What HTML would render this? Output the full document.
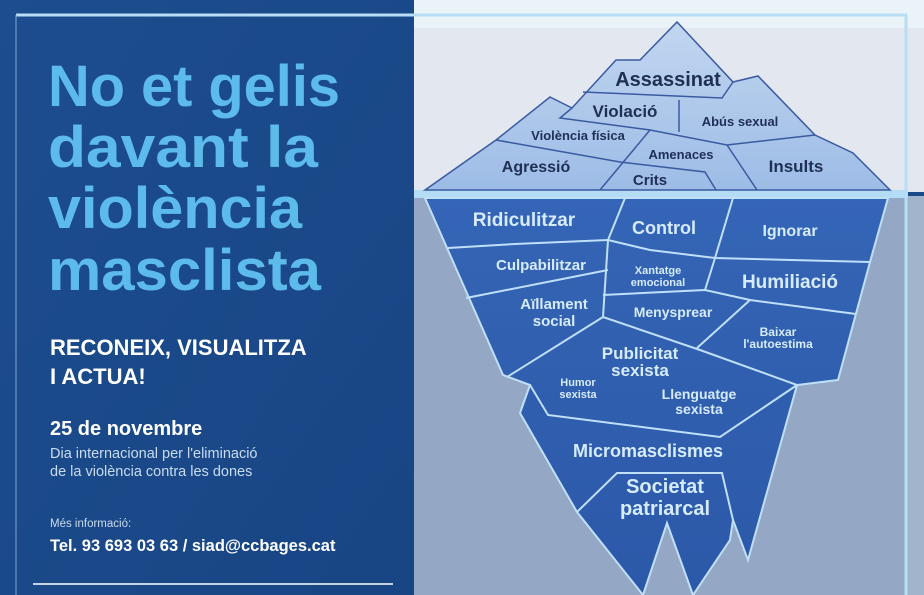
<!DOCTYPE html>
<html><head><meta charset="utf-8"><style>
html,body{margin:0;padding:0;width:924px;height:595px;overflow:hidden;background:#1b4a88}
svg{display:block}
text{font-family:"Liberation Sans",sans-serif;font-weight:bold}
</style></head><body>
<svg width="924" height="595" viewBox="0 0 924 595" xmlns="http://www.w3.org/2000/svg">
<defs>
<linearGradient id="lg" x1="0" y1="0" x2="1" y2="1">
<stop offset="0" stop-color="#1d4d8e"/><stop offset="1" stop-color="#184584"/></linearGradient>
<linearGradient id="ice" x1="0" y1="0" x2="0" y2="1">
<stop offset="0" stop-color="#c2d6f0"/><stop offset="1" stop-color="#9dbce6"/></linearGradient>
<linearGradient id="uw" x1="0" y1="0" x2="0" y2="1">
<stop offset="0" stop-color="#3565b6"/><stop offset="1" stop-color="#2c58a8"/></linearGradient>
</defs>
<rect x="0" y="0" width="414" height="595" fill="url(#lg)"/>
<rect x="414" y="0" width="510" height="192" fill="#e3e7f0"/>
<rect x="414" y="0" width="510" height="28" fill="#eaf3f8"/>
<rect x="414" y="196" width="510" height="399" fill="#94a8c6"/>
<rect x="906" y="196" width="18" height="399" fill="#a2b4cc"/>
<line x1="16" y1="15" x2="907" y2="15" stroke="#b8def6" stroke-width="3"/>
<line x1="16" y1="15" x2="16" y2="595" stroke="#7fa8d0" stroke-width="1"/>
<line x1="906" y1="15" x2="906" y2="595" stroke="#b8def6" stroke-width="3"/>
<rect x="414" y="190" width="494" height="8" fill="#b5dcf5"/>
<line x1="33" y1="584" x2="393" y2="584" stroke="#ffffff" stroke-width="1.5"/>

<polygon points="425,190 496,140 550,97 572,108 616,60 640,60 677,22 733,82 758,76 815,135 853,153 890,190" fill="url(#ice)" stroke="#3a5aa0" stroke-width="1.5"/>
<g stroke="#3a5aa0" stroke-width="1.5" fill="none">
<polyline points="583,92 722,98 733,82"/>
<polyline points="572,108 560,118 650,130 727,145 815,135"/>
<line x1="679" y1="100" x2="679" y2="132"/>
<polyline points="496,140 620,162 705,172 716,190"/>
<line x1="650" y1="130" x2="600" y2="190"/>
<line x1="727" y1="145" x2="757" y2="190"/>
</g>
<g fill="#1f2f55" text-anchor="middle">
<text x="668" y="86" font-size="20">Assassinat</text>
<text x="625" y="117" font-size="17">Violació</text>
<text x="740" y="126" font-size="13">Abús sexual</text>
<text x="578" y="140" font-size="13">Violència física</text>
<text x="681" y="159" font-size="13">Amenaces</text>
<text x="536" y="172" font-size="16">Agressió</text>
<text x="650" y="185" font-size="15">Crits</text>
<text x="796" y="172" font-size="17">Insults</text>
</g>

<polygon points="425,198 888,198 870,262 838,380 797,385 748,560 733,520 730,540 693,595 667,523 643,595 577,512 520,413 530,385 503,375" fill="url(#uw)" stroke="#bfe0f8" stroke-width="2"/>
<g stroke="#bfe0f8" stroke-width="2" fill="none">
<polyline points="448,248 515,244 608,240"/>
<line x1="625" y1="198" x2="608" y2="240"/>
<line x1="733" y1="198" x2="715" y2="258"/>
<polyline points="608,240 650,250 715,258 870,262"/>
<polyline points="466,298 608,270"/>
<line x1="608" y1="240" x2="603" y2="317"/>
<polyline points="603,295 705,290 750,300 856,314"/>
<line x1="715" y1="258" x2="705" y2="290"/>
<polyline points="507,377 603,317 700,350 797,385"/>
<line x1="750" y1="300" x2="697" y2="348"/>
<polyline points="530,385 548,415 720,437 797,385"/>
<polyline points="577,512 617,473 722,473 733,520"/>
</g>
<g fill="#d6ecfb" text-anchor="middle">
<text x="524" y="226" font-size="19">Ridiculitzar</text>
<text x="664" y="234" font-size="18">Control</text>
<text x="790" y="236" font-size="16">Ignorar</text>
<text x="541" y="270" font-size="15">Culpabilitzar</text>
<text x="658" y="274" font-size="11">Xantatge</text>
<text x="658" y="286" font-size="11">emocional</text>
<text x="790" y="288" font-size="19">Humiliació</text>
<text x="554" y="309" font-size="15">Aïllament</text>
<text x="554" y="326" font-size="15">social</text>
<text x="673" y="317" font-size="14">Menysprear</text>
<text x="778" y="336" font-size="12">Baixar</text>
<text x="778" y="348" font-size="12">l'autoestima</text>
<text x="640" y="359" font-size="17">Publicitat</text>
<text x="640" y="376" font-size="17">sexista</text>
<text x="578" y="386" font-size="11">Humor</text>
<text x="578" y="398" font-size="11">sexista</text>
<text x="699" y="399" font-size="14">Llenguatge</text>
<text x="699" y="414" font-size="14">sexista</text>
<text x="648" y="457" font-size="18">Micromasclismes</text>
<text x="665" y="493" font-size="20">Societat</text>
<text x="665" y="515" font-size="20">patriarcal</text>
</g>

<g fill="#5cbbea" font-size="58">
<text x="48" y="106" textLength="292" lengthAdjust="spacingAndGlyphs">No et gelis</text>
<text x="48" y="167" textLength="270" lengthAdjust="spacingAndGlyphs">davant la</text>
<text x="48" y="228" textLength="254" lengthAdjust="spacingAndGlyphs">violència</text>
<text x="48" y="290" textLength="273" lengthAdjust="spacingAndGlyphs">masclista</text>
</g>
<g fill="#ffffff">
<text x="50" y="355" font-size="22">RECONEIX, VISUALITZA</text>
<text x="50" y="384" font-size="22">I ACTUA!</text>
<text x="50" y="435" font-size="20">25 de novembre</text>
</g>
<g fill="#c9dcef" font-size="14.5">
<text x="50" y="458" style="font-weight:normal">Dia internacional per l'eliminació</text>
<text x="50" y="476" style="font-weight:normal">de la violència contra les dones</text>
</g>
<text x="50" y="527" font-size="11.5" fill="#c9dcef" style="font-weight:normal">Més informació:</text>
<text x="50" y="551" font-size="16.5" fill="#ffffff">Tel. 93 693 03 63 / siad@ccbages.cat</text>
</svg>
</body></html>
